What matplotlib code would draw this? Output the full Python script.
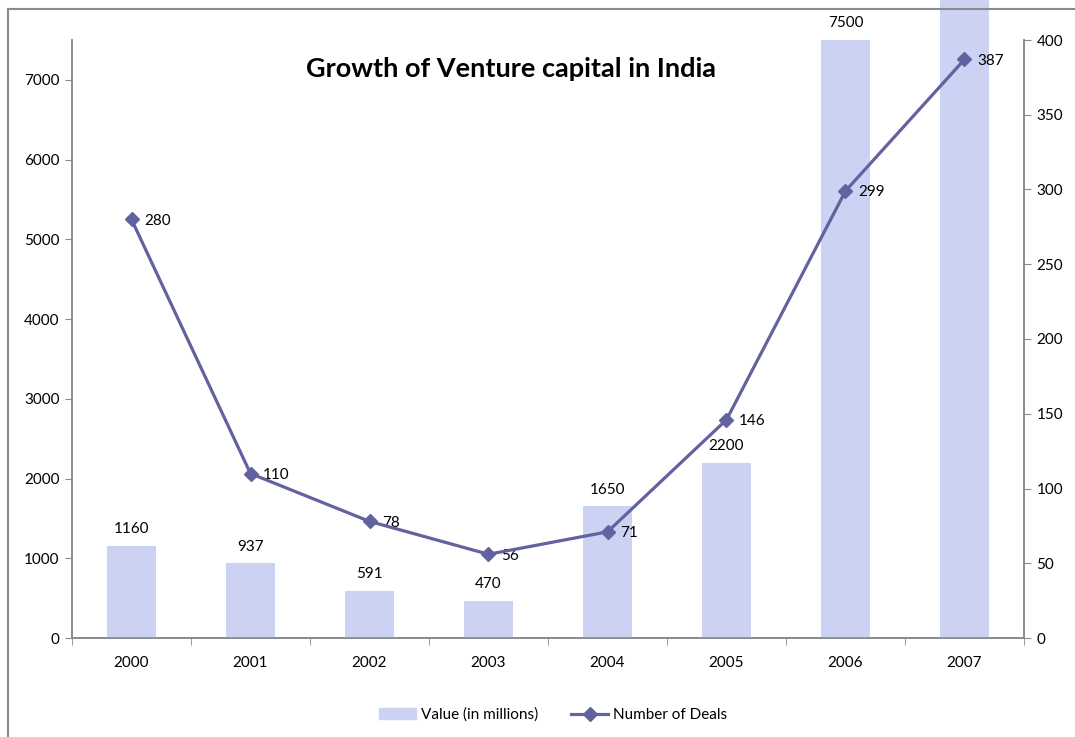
import matplotlib.pyplot as plt
from matplotlib.patches import Rectangle
from matplotlib.lines import Line2D
import numpy as np

years = ['2000', '2001', '2002', '2003', '2004', '2005', '2006', '2007']
value_millions = [1160, 937, 591, 470, 1650, 2200, 7500, 10000]
num_deals = [280, 110, 78, 56, 71, 146, 299, 387]

plt.rcParams['font.family'] = ['Lato', 'DejaVu Sans']
grey = '#8a8a8a'
bar_col = '#cbd2f3'
line_col = '#62629f'

fig = plt.figure(figsize=(10.75, 7.37), dpi=100)
ax = fig.add_axes([72/1075, 1-638/737, (1024-72)/1075, (638-40)/737])
ax2 = ax.twinx()

# chart area border (cropped at right/bottom)
fig.patches.append(Rectangle((8/1075, -0.2), 1.2, 1.2 - 9/737, transform=fig.transFigure,
                             fill=False, edgecolor=grey, lw=1.5, zorder=0))

x = np.arange(len(years))
bars = ax.bar(x, value_millions, width=0.41, color=bar_col, edgecolor='none', zorder=3, clip_on=False)
for xi, v in zip(x, value_millions):
    if v <= 7500:
        ax.annotate(str(v), (xi, v), xytext=(0, 7), textcoords='offset points',
                    ha='center', va='bottom', fontsize=11)

ax2.plot(x, num_deals, color=line_col, lw=2.3, marker='D', markersize=7, zorder=4)
for xi, v in zip(x, num_deals):
    ax2.annotate(str(v), (xi, v), xytext=(9, -1), textcoords='offset points',
                 ha='left', va='center', fontsize=11)

ax.set_xlim(-0.5, 7.5)
ax.set_ylim(0, 7500)
ax2.set_ylim(0, 400)
ax.set_yticks(range(0, 7001, 1000))
ax2.set_yticks(range(0, 401, 50))
ax.set_xticks(x)
ax.set_xticklabels(years)
ax.set_xticks(np.arange(-0.5, 8, 1), minor=True)
ax.tick_params(axis='x', which='major', length=0, pad=13, labelsize=11)
ax.tick_params(axis='x', which='minor', length=5, color=grey, direction='out')
ax.tick_params(axis='y', length=5, color=grey, labelsize=11, pad=4)
ax2.tick_params(axis='y', length=5, color=grey, labelsize=11, pad=4)

for a in (ax, ax2):
    a.spines['top'].set_visible(False)
    for s in ('left', 'right', 'bottom'):
        a.spines[s].set_color(grey)
        a.spines[s].set_linewidth(1.2)
    a.patch.set_visible(False)

fig.text(511/1075, 1-69/737, 'Growth of Venture capital in India', ha='center', va='center',
         fontsize=19.5, fontweight='bold')

handles = [Rectangle((0, 0), 1, 1, color=bar_col),
           Line2D([], [], color=line_col, lw=2.3, marker='D', markersize=7)]
fig.legend(handles, ['Value (in millions)', 'Number of Deals'], loc='center',
           bbox_to_anchor=(553/1075, 1-715/737), ncol=2, frameon=False, fontsize=11,
           handlelength=2.4, handletextpad=0.3, columnspacing=2.2)

fig.savefig('out.png', dpi=100)
